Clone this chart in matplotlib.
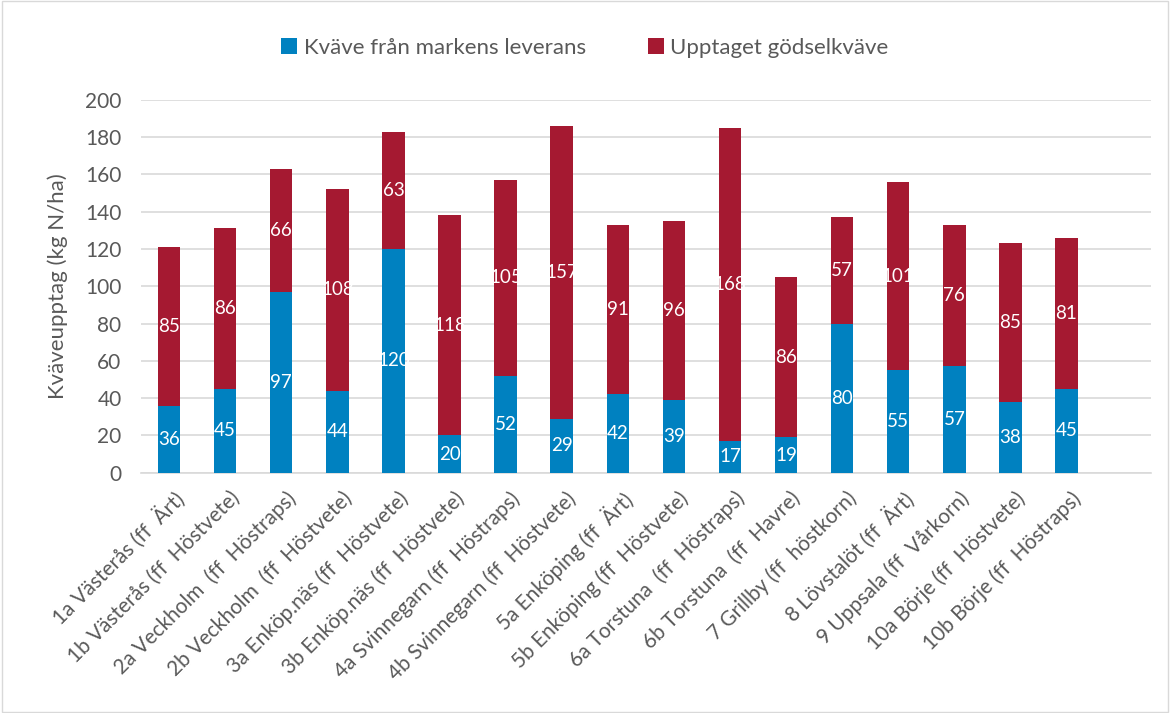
import numpy as np
import matplotlib.pyplot as plt
import matplotlib.transforms as mtransforms

plt.rcParams['font.family'] = ['Lato', 'DejaVu Sans']

labels = ["1a Västerås (ff  Ärt)", "1b Västerås (ff  Höstvete)", "2a Veckholm  (ff  Höstraps)",
          "2b Veckholm  (ff  Höstvete)", "3a Enköp.näs (ff  Höstvete)", "3b Enköp.näs (ff  Höstvete)",
          "4a Svinnegarn (ff  Höstraps)", "4b Svinnegarn (ff  Höstvete)", "5a Enköping (ff  Ärt)",
          "5b Enköping (ff  Höstvete)", "6a Torstuna  (ff  Höstraps)", "6b Torstuna  (ff  Havre)",
          "7 Grillby (ff  höstkorn)", "8 Lövstalöt (ff  Ärt)", "9 Uppsala (ff  Vårkorn)",
          "10a Börje (ff  Höstvete)", "10b Börje (ff  Höstraps)"]
mark = [36, 45, 97, 44, 120, 20, 52, 29, 42, 39, 17, 19, 80, 55, 57, 38, 45]
godsel = [85, 86, 66, 108, 63, 118, 105, 157, 91, 96, 168, 86, 57, 101, 76, 85, 81]

blue = '#0081C0'
red = '#A51931'
grey = '#595959'

fig = plt.figure(figsize=(11.7, 7.13), dpi=100)
ax = fig.add_axes([0.1205, 0.337, 0.863, 0.523])
x = np.arange(len(labels))
w = 0.4
b1 = ax.bar(x, mark, w, color=blue, label='Kväve från markens leverans', zorder=3)
b2 = ax.bar(x, godsel, w, bottom=mark, color=red, label='Upptaget gödselkväve', zorder=3)
ax.bar_label(b1, label_type='center', color='white', fontsize=13.5)
ax.bar_label(b2, label_type='center', color='white', fontsize=13.5)

ax.set_ylim(0, 200)
ax.set_yticks(range(0, 201, 20))
# excel leaves one empty category slot on the right
ax.set_xlim(-0.5, len(labels) + 0.5)
ax.grid(axis='y', color='#D9D9D9', linewidth=1.2, zorder=0)
for s in ['top', 'right', 'left']:
    ax.spines[s].set_visible(False)
ax.spines['bottom'].set_color('#D9D9D9')
ax.spines['bottom'].set_linewidth(1.2)
ax.tick_params(length=0, colors=grey)
ax.tick_params(axis='y', labelsize=15, pad=14)
ax.tick_params(axis='x', labelsize=15, pad=11)
ax.set_xticks(x)
ax.set_xticklabels(labels, rotation=45, ha='right', va='top', rotation_mode='anchor')
ax.set_ylabel('Kväveupptag (kg N/ha)', fontsize=16, color=grey, labelpad=12)

# size the slanted labels so the first one is about as long as in the original
r = fig.canvas.get_renderer()
t0 = ax.get_xticklabels()[0]
t0.set_rotation(0)
wpx = t0.get_window_extent(r).width
t0.set_rotation(45)
fs = 15 * 178 / wpx
shift = mtransforms.ScaledTranslation(4 / 100, 0, fig.dpi_scale_trans)
for t in ax.get_xticklabels():
    t.set_fontsize(fs)
    t.set_transform(t.get_transform() + shift)

fig.legend(loc='upper center', bbox_to_anchor=(0.5, 0.975), ncol=2, frameon=False,
           fontsize=16, handlelength=0.7, handleheight=0.7, columnspacing=2.8,
           handletextpad=0.3, labelcolor=grey)

fig.patches.append(plt.Rectangle((0.002, 0.002), 0.996, 0.996, transform=fig.transFigure,
                                 fill=False, edgecolor='#D9D9D9', linewidth=1))
fig.savefig('out.png', dpi=100)
